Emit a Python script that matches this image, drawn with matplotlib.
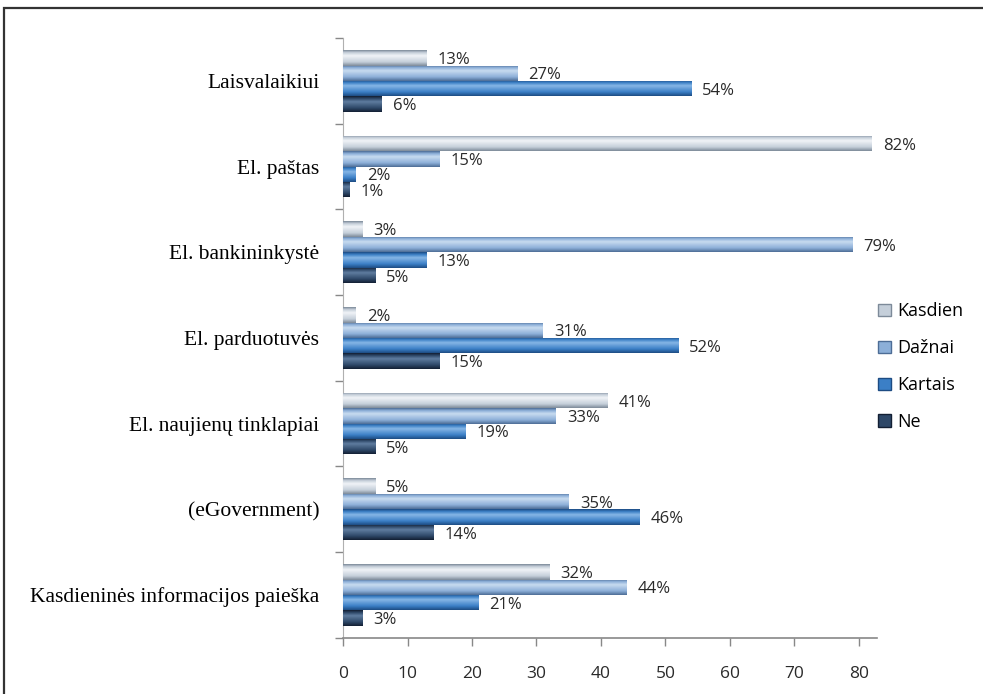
import numpy as np
import matplotlib
matplotlib.use("Agg")
import matplotlib.pyplot as plt
from matplotlib.colors import LinearSegmentedColormap
from matplotlib.patches import Patch, Rectangle

# categories listed bottom -> top (barh draws index 0 at the bottom)
categories = [
    "Kasdieninės informacijos paieška",
    "(eGovernment)",
    "El. naujienų tinklapiai",
    "El. parduotuvės",
    "El. bankininkystė",
    "El. paštas",
    "Laisvalaikiui",
]
series = ["Kasdien", "Dažnai", "Kartais", "Ne"]
kasdien = [32, 5, 41, 2, 3, 82, 13]
daznai = [44, 35, 33, 31, 79, 15, 27]
kartais = [21, 46, 19, 52, 13, 2, 54]
ne = [3, 14, 5, 15, 5, 1, 6]
values = [kasdien, daznai, kartais, ne]
x_ticks = [0, 10, 20, 30, 40, 50, 60, 70, 80]

# (dark edge, base, highlight) per series for the cylinder shading
shades = {
    "Kasdien": ("#7d8a99", "#c5cfda", "#f0f3f7"),
    "Dažnai": ("#4d6d96", "#8cafd8", "#c8dbf0"),
    "Kartais": ("#1d4c83", "#3b7fc6", "#86b6e6"),
    "Ne": ("#131f33", "#2e4868", "#5f7c9f"),
}

label_font = ["Open Sans", "DejaVu Sans"]
cat_font = ["Liberation Serif", "DejaVu Serif"]

fig = plt.figure(figsize=(9.83, 6.94), dpi=100)
ax = fig.add_axes([0.349, 0.081, 0.543, 0.864])

# outer frame (open to the right and bottom)
fig.patches.append(Rectangle((4 / 983, -0.2), 1.2, 1.2 - 8 / 694,
                             transform=fig.transFigure, fill=False,
                             edgecolor="#333333", linewidth=1.6))

bar_h = 0.18
offsets = [1.5 * bar_h, 0.5 * bar_h, -0.5 * bar_h, -1.5 * bar_h]
ypos = np.arange(len(categories))

# vertical shading profile across bar height: bottom -> top
prof = np.linspace(0, 1, 64)
for name, vals, off in zip(series, values, offsets):
    dark, base, light = shades[name]
    cmap = LinearSegmentedColormap.from_list(
        name, [(0, dark), (0.25, base), (0.65, light), (0.85, base), (1, dark)])
    bars = ax.barh(ypos + off, vals, height=bar_h, color=base,
                   edgecolor="none", zorder=2)
    for rect, v in zip(bars, vals):
        x0, y0 = rect.get_x(), rect.get_y()
        w, h = rect.get_width(), rect.get_height()
        im = ax.imshow(prof.reshape(-1, 1), extent=[x0, x0 + w, y0, y0 + h],
                       origin="lower", aspect="auto", cmap=cmap, zorder=3)
        im.set_clip_path(rect)
        ax.annotate(f"{v}%", (v, rect.get_y() + h / 2), xytext=(8, -1.5),
                    textcoords="offset points", va="center", ha="left",
                    fontsize=12, family=label_font, color="#2a2a2a")

ax.set_xlim(0, 82.8)
ax.set_ylim(-0.5, len(categories) - 0.5)
ax.set_xticks(x_ticks)
ax.set_xticklabels([str(t) for t in x_ticks], family=label_font, fontsize=12.5)
ax.set_yticks(ypos)
ax.set_yticklabels(categories, family=cat_font, fontsize=15.5)
ax.set_yticks(np.arange(-0.5, len(categories)), minor=True)
ax.tick_params(axis="y", which="major", length=0, pad=17)
ax.tick_params(axis="y", which="minor", length=6, color="#888888", width=1)
ax.tick_params(axis="x", length=6, color="#888888", width=1, pad=14,
               labelcolor="#2a2a2a")

for s in ("top", "right"):
    ax.spines[s].set_visible(False)
ax.spines["left"].set_color("#b0b0b0")
ax.spines["bottom"].set_color("#888888")
ax.spines["bottom"].set_linewidth(1.2)

handles = [Patch(facecolor=shades[n][1], edgecolor=shades[n][0], label=n)
           for n in series]
fig.legend(handles=handles, loc="upper left",
           bbox_to_anchor=(0.877, 1 - 286 / 694), frameon=False,
           prop={"family": label_font, "size": 13}, labelspacing=1.05,
           handlelength=0.7, handleheight=0.7, handletextpad=0.35)

fig.savefig("out.png", dpi=100)
